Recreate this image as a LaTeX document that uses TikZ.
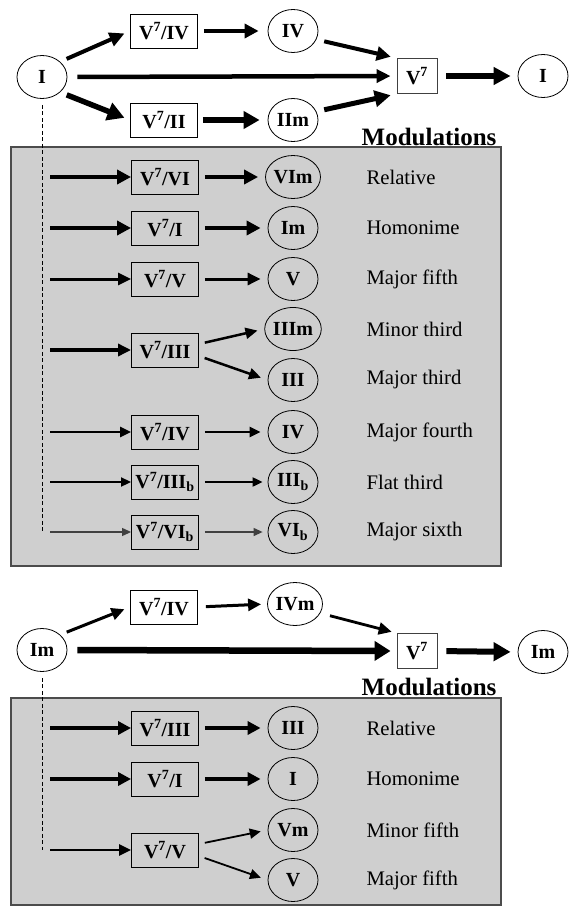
\documentclass[tikz,border=0pt]{standalone}
\usepackage{fontspec}
\setmainfont{Liberation Serif}
\usetikzlibrary{arrows.meta,shapes.geometric}

\begin{document}
\begin{tikzpicture}[x=1pt,y=-1pt,
  lbl/.style={font=\fontsize{20}{21}\selectfont\bfseries},
  chord/.style={draw, line width=0.9pt, inner sep=0pt, minimum width=67pt, minimum height=34pt, lbl},
  dom/.style={draw=black!75, line width=0.9pt, inner sep=0pt, minimum width=40pt, minimum height=35pt, lbl},
  key/.style={ellipse, draw, line width=0.8pt, inner sep=0pt, minimum width=50pt, minimum height=43pt, lbl},
  note/.style={anchor=west, font=\fontsize{20.7}{21}\selectfont},
  head/.style={font=\fontsize{25}{26}\selectfont\bfseries, anchor=base east},
  arr/.style args={#1/#2/#3}{line width=#1pt, -{Triangle[length=#2pt,width=#3pt]}},
  panel/.style={fill=black!19, draw=black!70, line width=1.2pt},
  guide/.style={line width=0.7pt, dash pattern=on 4pt off 2.5pt},
]
\useasboundingbox (0,0) rectangle (569,907);

% ---------- major key: cadence ----------
\node[key]   (I1)   at (42,77)   {I};
\node[chord] (A1)   at (164,31)  {V\textsuperscript{7}/IV};
\node[chord] (B1)   at (164,120) {V\textsuperscript{7}/II};
\node[key]   (IV1)  at (293,31)  {IV};
\node[key]   (IIm1) at (293,120) {IIm};
\node[dom]   (D1)   at (417,76)  {V\textsuperscript{7}};
\node[key]   (T1)   at (543,76)  {I};

\draw[arr=4/15/14,   shorten >=6pt, shorten <=7pt]  (I1.40)   -- (A1.west);
\draw[arr=5.5/17/18, shorten >=6pt, shorten <=7pt]  (I1.-40)  -- (B1.west);
\draw[arr=4.5/14/13, shorten >=6pt, shorten <=10pt] (I1.east) -- (D1.west);
\draw[arr=4.5/14/14, shorten >=9pt, shorten <=6pt]  (A1.east) -- (IV1.west);
\draw[arr=5.5/16/17, shorten >=8pt, shorten <=5pt]  (B1.east) -- (IIm1.west);
\draw[arr=4/14/14,   shorten >=6pt, shorten <=8pt]  (IV1.-20) -- (D1.north west);
\draw[arr=5/16/16,   shorten >=6pt, shorten <=8pt]  (IIm1.20) -- (D1.south west);
\draw[arr=6/17/17,   shorten >=7pt, shorten <=9pt]  (D1.east) -- (T1.west);

\node[head] (M1) at (500,145) {Modulations};

% ---------- major key: modulations ----------
\draw[panel] (11,147) rectangle (501,566);
\coordinate (g1) at (42,532);
\draw[guide, shorten <=6pt] (I1.south) -- (g1);

% relative
\coordinate (p1) at (42,177);
\node[chord] (R1) at (165,177) {V\textsuperscript{7}/VI};
\node[key]   (C1) at (293,177) {VIm};
\node[note]  (N1) at (363,177) {Relative};
\draw[arr=4/14/14, shorten <=8pt] (p1) -- (R1.west);
\draw[arr=4/14/14, shorten >=7pt, shorten <=6pt] (R1.east) -- (C1.west);

% homonime
\coordinate (p2) at (42,228);
\node[chord] (R2) at (165,228) {V\textsuperscript{7}/I};
\node[key]   (C2) at (293,228) {Im};
\node[note]  (N2) at (363,228) {Homonime};
\draw[arr=4/14/14, shorten <=8pt] (p2) -- (R2.west);
\draw[arr=4/14/14, shorten >=7pt, shorten <=6pt] (R2.east) -- (C2.west);

% major fifth
\coordinate (p3) at (42,279);
\node[chord] (R3) at (165,279) {V\textsuperscript{7}/V};
\node[key]   (C3) at (293,279) {V};
\node[note]  (N3) at (363,279) {Major fifth};
\draw[arr=3/13/12, shorten <=8pt] (p3) -- (R3.west);
\draw[arr=3/13/12, shorten >=7pt, shorten <=6pt] (R3.east) -- (C3.west);

% thirds
\coordinate (p4) at (42,350);
\node[chord] (R4)  at (165,350) {V\textsuperscript{7}/III};
\node[key]   (C4a) at (293,329) {IIIm};
\node[key]   (C4b) at (293,380) {III};
\node[note]  (N4a) at (363,329) {Minor third};
\node[note]  (N4b) at (363,380) {Major third};
\draw[arr=3.3/13/12, shorten <=8pt] (p4) -- (R4.west);
\draw[arr=2.5/12/11, shorten >=7pt, shorten <=6pt] ([yshift=6pt]R4.east) -- (C4a.west);
\draw[arr=2.5/12/11, shorten >=7pt, shorten <=6pt] ([yshift=-6pt]R4.east) -- (C4b.west);

% major fourth
\coordinate (p5) at (42,432);
\node[chord] (R5) at (165,432) {V\textsuperscript{7}/IV};
\node[key]   (C5) at (293,432) {IV};
\node[note]  (N5) at (363,432) {Major fourth};
\draw[arr=2.5/11/10, shorten <=8pt] (p5) -- (R5.west);
\draw[arr=2.5/11/10, shorten >=7pt, shorten <=6pt] (R5.east) -- (C5.west);

% flat third
\coordinate (p6) at (42,482);
\node[chord] (R6) at (165,482) {V\textsuperscript{7}/III\textsubscript{b}};
\node[key]   (C6) at (293,482) {III\textsubscript{b}};
\node[note]  (N6) at (363,482) {Flat third};
\draw[arr=2/10/9, shorten <=8pt] (p6) -- (R6.west);
\draw[arr=2/10/9, shorten >=5pt, shorten <=6pt] (R6.east) -- (C6.west);

% major sixth
\node[chord] (R7) at (165,532) {V\textsuperscript{7}/VI\textsubscript{b}};
\node[key]   (C7) at (293,532) {VI\textsubscript{b}};
\node[note]  (N7) at (363,532) {Major sixth};
\draw[arr=1.2/9/8, black!75, shorten <=8pt] (g1) -- (R7.west);
\draw[arr=1.2/9/8, black!75, shorten >=5pt, shorten <=6pt] (R7.east) -- (C7.west);

% ---------- minor key: cadence ----------
\node[key]   (I2)   at (42,650)  {Im};
\node[chord] (A2)   at (164,607) {V\textsuperscript{7}/IV};
\node[key]   (IVm2) at (295,604) {IVm};
\node[dom]   (D2)   at (417,651) {V\textsuperscript{7}};
\node[key]   (T2)   at (543,652) {Im};

\draw[arr=3/13/12,   shorten >=6pt, shorten <=7pt]  (I2.40)    -- (A2.west);
\draw[arr=3/13/12,   shorten >=6pt, shorten <=8pt]  (A2.east)  -- (IVm2.west);
\draw[arr=2.8/13/12, shorten >=5pt, shorten <=10pt] (IVm2.-20) -- (D2.north west);
\draw[arr=6.5/16/19, shorten >=6pt, shorten <=10pt] (I2.east)  -- (D2.west);
\draw[arr=6/17/18,   shorten >=7pt, shorten <=9pt]  (D2.east)  -- (T2.west);

\node[head] (M2) at (500,695) {Modulations};

% ---------- minor key: modulations ----------
\draw[panel] (11,698) rectangle (501,905);
\coordinate (g2) at (42,850);
\draw[guide, shorten <=6pt] (I2.south) -- (g2);

% relative
\coordinate (q1) at (42,728);
\node[chord] (S1) at (165,728) {V\textsuperscript{7}/III};
\node[key]   (E1) at (293,728) {III};
\node[note]  (L1) at (363,728) {Relative};
\draw[arr=3.5/13/13, shorten <=8pt] (q1) -- (S1.west);
\draw[arr=3.5/13/13, shorten >=7pt, shorten <=6pt] (S1.east) -- (E1.west);

% homonime
\coordinate (q2) at (42,779);
\node[chord] (S2) at (165,779) {V\textsuperscript{7}/I};
\node[key]   (E2) at (293,779) {I};
\node[note]  (L2) at (363,779) {Homonime};
\draw[arr=3.5/13/13, shorten <=8pt] (q2) -- (S2.west);
\draw[arr=3.5/13/13, shorten >=7pt, shorten <=6pt] (S2.east) -- (E2.west);

% fifths
\node[chord] (S3)  at (165,850) {V\textsuperscript{7}/V};
\node[key]   (E3a) at (293,830) {Vm};
\node[key]   (E3b) at (293,880) {V};
\node[note]  (L3a) at (363,830) {Minor fifth};
\node[note]  (L3b) at (363,880) {Major fifth};
\draw[arr=2.5/12/11, shorten <=8pt] (g2) -- (S3.west);
\draw[arr=1.8/11/10, shorten >=7pt, shorten <=6pt] ([yshift=6pt]S3.east) -- (E3a.west);
\draw[arr=1.8/11/10, shorten >=7pt, shorten <=6pt] ([yshift=-6pt]S3.east) -- (E3b.west);
\end{tikzpicture}
\end{document}
